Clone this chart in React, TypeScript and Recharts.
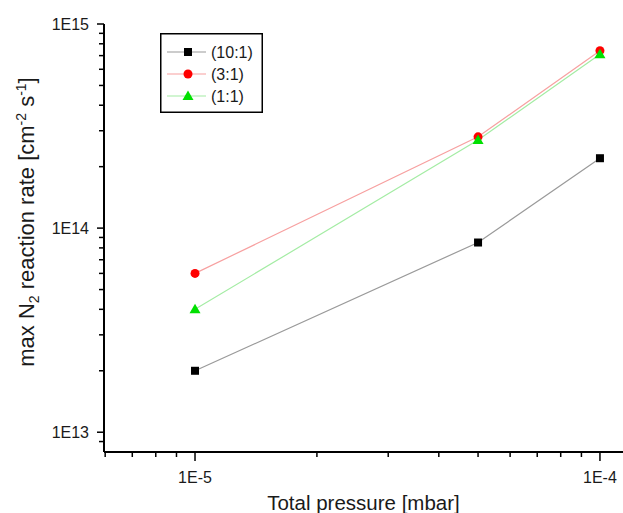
import React from 'react';
import { LineChart, Line, XAxis, YAxis, Legend } from 'recharts';

// --- Data ---
const pressures = [1e-5, 5e-5, 1e-4]; // mbar
const rate10to1 = [2.0e13, 8.5e13, 2.2e14];
const rate3to1 = [6.0e13, 2.8e14, 7.4e14];
const rate1to1 = [4.0e13, 2.7e14, 7.1e14];
const seriesNames = ['(10:1)', '(3:1)', '(1:1)'];

const xTicks = [
  6e-6, 7e-6, 8e-6, 9e-6, 1e-5, 2e-5, 3e-5, 4e-5, 5e-5, 6e-5, 7e-5, 8e-5, 9e-5, 1e-4,
];
const yTicks = [
  9e12, 1e13, 2e13, 3e13, 4e13, 5e13, 6e13, 7e13, 8e13, 9e13,
  1e14, 2e14, 3e14, 4e14, 5e14, 6e14, 7e14, 8e14, 9e14, 1e15,
];

const FONT = '"Liberation Sans", Arial, sans-serif';
const TEXT = '#1a1a1a';

const toPoints = (ys: number[]) => pressures.map((x, i) => ({ x, y: ys[i] }));

// label only on whole decades
const decadeLabel = (v: number) => {
  const e = Math.log10(v);
  return Math.abs(e - Math.round(e)) < 1e-6 ? `1E${Math.round(e)}` : null;
};

// --- Markers ---
const Square = ({ cx, cy, fill }: any) => (
  <rect x={cx - 4} y={cy - 4} width={8} height={8} fill={fill} />
);
const Circle = ({ cx, cy, fill }: any) => <circle cx={cx} cy={cy} r={4.5} fill={fill} />;
const Triangle = ({ cx, cy, fill }: any) => (
  <path d={`M${cx},${cy - 5.5} L${cx + 5.5},${cy + 4} L${cx - 5.5},${cy + 4} Z`} fill={fill} />
);

const series = [
  { name: seriesNames[0], data: toPoints(rate10to1), line: '#9a9a9a', mark: '#000000', Shape: Square },
  { name: seriesNames[1], data: toPoints(rate3to1), line: '#f7a0a0', mark: '#ff0000', Shape: Circle },
  { name: seriesNames[2], data: toPoints(rate1to1), line: '#a4eca4', mark: '#00e000', Shape: Triangle },
];

// --- Axis ticks (outward, major + minor) ---
const YTick = ({ x, y, payload }: any) => {
  const lbl = decadeLabel(payload.value);
  return (
    <g>
      <line x1={x} x2={x - (lbl ? 7 : 5)} y1={y} y2={y} stroke="#000" strokeWidth={1.5} />
      {lbl && (
        <text x={x - 15} y={y} dy={5.5} textAnchor="end" fontSize={16} fontFamily={FONT} fill={TEXT}>
          {lbl}
        </text>
      )}
    </g>
  );
};

const XTick = ({ x, y, payload }: any) => {
  const lbl = decadeLabel(payload.value);
  return (
    <g>
      <line x1={x} x2={x} y1={y} y2={y + (lbl ? 9 : 5)} stroke="#000" strokeWidth={1.5} />
      {lbl && (
        <text x={x} y={y + 31} textAnchor="middle" fontSize={16} fontFamily={FONT} fill={TEXT}>
          {lbl}
        </text>
      )}
    </g>
  );
};

const YTitle = () => (
  <text
    x={34}
    y={222}
    transform="rotate(-90, 34, 222)"
    textAnchor="middle"
    fontSize={22}
    fontFamily={FONT}
    fill={TEXT}
  >
    max N<tspan fontSize={14} dy={5}>2</tspan>
    <tspan dy={-5}> reaction rate [cm</tspan>
    <tspan fontSize={14} dy={-8}>-2</tspan>
    <tspan dy={8}> s</tspan>
    <tspan fontSize={14} dy={-8}>-1</tspan>
    <tspan dy={8}>]</tspan>
  </text>
);

const XTitle = ({ viewBox }: any) => (
  <text
    x={viewBox.x + viewBox.width / 2}
    y={510}
    textAnchor="middle"
    fontSize={20.5}
    fontFamily={FONT}
    fill={TEXT}
  >
    Total pressure [mbar]
  </text>
);

const LegendBox = () => (
  <svg width={103} height={80} style={{ display: 'block' }}>
    <rect x={0.75} y={0.75} width={101.5} height={78.5} fill="#fff" stroke="#000" strokeWidth={1.5} />
    {series.map((s, i) => {
      const cy = 19 + i * 22;
      const { Shape } = s;
      return (
        <g key={s.name}>
          <line x1={7} x2={46} y1={cy} y2={cy} stroke={s.line} strokeWidth={1.2} />
          <Shape cx={28} cy={cy} fill={s.mark} />
          <text x={51} y={cy + 6} fontSize={16} fontFamily={FONT} fill={TEXT}>
            {s.name}
          </text>
        </g>
      );
    })}
  </svg>
);

export default function App() {
  return (
    <div style={{ position: 'absolute', left: 0, top: 0, background: '#fff' }}>
      <LineChart width={623} height={513} margin={{ top: 24, right: 0, bottom: 0, left: 0 }}>
        <XAxis
          dataKey="x"
          type="number"
          scale="log"
          domain={[5.96e-6, 1.14e-4]}
          allowDataOverflow
          ticks={xTicks}
          interval={0}
          tick={<XTick />}
          tickLine={false}
          tickSize={0}
          tickMargin={0}
          height={61}
          axisLine={{ stroke: '#000', strokeWidth: 2 }}
          label={{ content: <XTitle /> }}
        />
        <YAxis
          type="number"
          scale="log"
          domain={[8e12, 1e15]}
          allowDataOverflow
          ticks={yTicks}
          interval={0}
          tick={<YTick />}
          tickLine={false}
          tickSize={0}
          tickMargin={0}
          width={104}
          axisLine={{ stroke: '#000', strokeWidth: 2 }}
          label={{ content: <YTitle /> }}
        />
        <Legend
          layout="horizontal"
          verticalAlign="middle"
          align="center"
          wrapperStyle={{ left: 160, top: 33, width: 103 }}
          content={<LegendBox />}
        />
        {series.map((s) => {
          const { Shape } = s;
          return (
            <Line
              key={s.name}
              name={s.name}
              data={s.data}
              dataKey="y"
              type="linear"
              stroke={s.line}
              strokeWidth={1.2}
              isAnimationActive={false}
              dot={(p: any) => <Shape key={`${s.name}-${p.index}`} cx={p.cx} cy={p.cy} fill={s.mark} />}
              activeDot={false}
            />
          );
        })}
      </LineChart>
    </div>
  );
}
